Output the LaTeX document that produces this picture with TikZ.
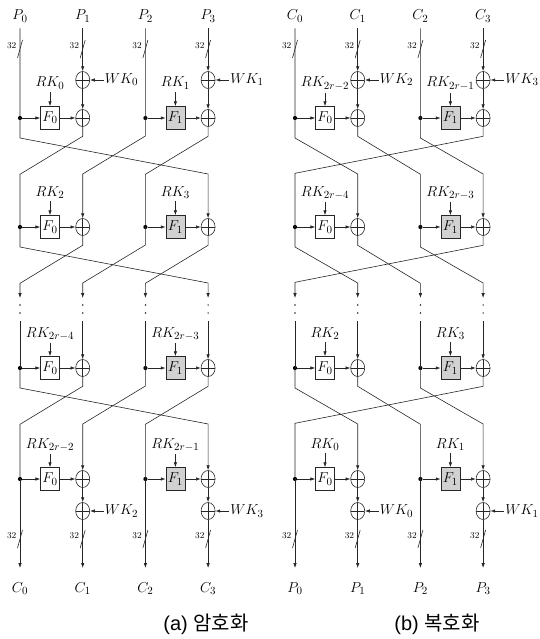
\documentclass[tikz,border=0pt]{standalone}
\usepackage{fontspec}
\newfontfamily\kr{Noto Sans CJK KR}
\newfontfamily\lsans{Liberation Sans}
\DeclareMathSizes{14.4}{14.4}{10.95}{8}
\usetikzlibrary{arrows.meta,shapes.geometric,calc}
\tikzset{
 ln/.style={draw=black!85, line width=0.6pt},
 arr/.style={ln, -{Latex[length=4.8pt,width=3.4pt]}},
 xorn/.style={ellipse, draw=black!85, line width=0.6pt, minimum width=14pt, minimum height=17pt, inner sep=0pt,
   path picture={\draw[black!85, line width=0.6pt] (path picture bounding box.north) -- (path picture bounding box.south) (path picture bounding box.west) -- (path picture bounding box.east);}},
 fnode/.style={draw=black!85, line width=0.6pt, minimum width=19pt, minimum height=23pt, inner sep=0pt, fill=white, font=\fontsize{14.4}{17}\selectfont},
 dotn/.style={circle, fill=black, inner sep=0pt, minimum size=4.2pt},
 lbl/.style={inner sep=1pt, font=\fontsize{14.4}{17}\selectfont},
 tinyn/.style={inner sep=0pt, font=\fontsize{9}{10}\selectfont, anchor=east},
 capn/.style={font=\fontsize{20}{23}\selectfont},
 vdot/.style={circle, fill=black!85, inner sep=0pt, minimum size=1.7pt},
}
\newcommand\fround[8]{%
 \node[dotn] (#1d0) at (#3,#2) {};
 \node[fnode] (#1fa) at ({#3+30},#2) {$F_0$};
 \node[xorn] (#1xa) at (#4,#2) {};
 \node[dotn] (#1d2) at (#5,#2) {};
 \node[fnode,fill=black!18] (#1fb) at ({#5+30},#2) {$F_1$};
 \node[xorn] (#1xb) at (#6,#2) {};
 \node[lbl,anchor=base] (#1ka) at ({#3+30},{#2-31}) {$#7$};
 \node[lbl,anchor=base] (#1kb) at ({#5+30},{#2-31}) {$#8$};
 \draw[arr] (#1d0) -- (#1fa);
 \draw[arr] (#1fa) -- (#1xa);
 \draw[arr,shorten <=2pt] (#1ka) -- (#1fa);
 \draw[arr] (#1d2) -- (#1fb);
 \draw[arr] (#1fb) -- (#1xb);
 \draw[arr,shorten <=2pt] (#1kb) -- (#1fb);
}
\newcommand\wkx[4]{%
 \node[xorn] (#1) at (#2,#3) {};
 \node[lbl,anchor=west] (#1l) at ({#2+21},#3) {$#4$};
 \draw[arr] (#1l) -- (#1);
}
\newcommand\bw[3]{%
 \draw[ln] ({#2-2.5},{#3+9}) -- ({#2+2.5},{#3-9});
 \node[tinyn] (#1) at ({#2-3.5},{#3-3}) {32};
}
\begin{document}
\begin{tikzpicture}[x=1pt,y=-1pt]
\useasboundingbox (0,0) rectangle (540,639);
\def\sp{62.7}
% ================= Encryption =================
\def\ea{20}\def\eb{82.7}\def\ec{145.4}\def\ed{208.1}
\node[lbl,anchor=base] (eP0) at (\ea,20) {$P_0$};
\node[lbl,anchor=base] (eP1) at (\eb,20) {$P_1$};
\node[lbl,anchor=base] (eP2) at (\ec,20) {$P_2$};
\node[lbl,anchor=base] (eP3) at (\ed,20) {$P_3$};
\node[lbl,anchor=base] (eC0) at (\ea,592) {$C_0$};
\node[lbl,anchor=base] (eC1) at (\eb,592) {$C_1$};
\node[lbl,anchor=base] (eC2) at (\ec,592) {$C_2$};
\node[lbl,anchor=base] (eC3) at (\ed,592) {$C_3$};
\wkx{ewk0}{\eb}{80}{WK_0}
\wkx{ewk1}{\ed}{80}{WK_1}
\fround{er1}{118}{\ea}{\eb}{\ec}{\ed}{RK_0}{RK_1}
\fround{er2}{227}{\ea}{\eb}{\ec}{\ed}{RK_2}{RK_3}
\fround{er3}{368}{\ea}{\eb}{\ec}{\ed}{RK_{2r-4}}{RK_{2r-3}}
\fround{er4}{479}{\ea}{\eb}{\ec}{\ed}{RK_{2r-2}}{RK_{2r-1}}
\wkx{ewk2}{\eb}{511}{WK_2}
\wkx{ewk3}{\ed}{511}{WK_3}
\bw{es0}{\ea}{49}\bw{es1}{\eb}{49}\bw{es2}{\ec}{49}\bw{es3}{\ed}{49}
\bw{et0}{\ea}{539}\bw{et1}{\eb}{539}\bw{et2}{\ec}{539}\bw{et3}{\ed}{539}
% top inputs
\draw[arr,shorten <=5pt] (eP0) -- (er1d0.center) -- ++(0,20) -- ++({3*\sp},36) -- (er2xb);
\draw[arr,shorten <=5pt] (eP1) -- (ewk0);
\draw[arr] (ewk0) -- (er1xa);
\draw[arr,shorten <=5pt] (eP2) -- (er1d2.center) -- ++(0,18) -- ++(-\sp,38) -- (er2xa);
\draw[arr,shorten <=5pt] (eP3) -- (ewk1);
\draw[arr] (ewk1) -- (er1xb);
\draw[ln] (er1xa.south) -- ++(0,9.5) -- ++(-\sp,38) -- (er2d0.center);
\draw[ln] (er1xb.south) -- ++(0,9.5) -- ++(-\sp,38) -- (er2d2.center);
% round 2 to dots
\coordinate (eu0) at (\ea,298); \coordinate (eu1) at (\eb,298);
\coordinate (eu2) at (\ec,298); \coordinate (eu3) at (\ed,298);
\coordinate (ev0) at (\ea,321); \coordinate (ev1) at (\eb,321);
\coordinate (ev2) at (\ec,321); \coordinate (ev3) at (\ed,321);
\draw[arr] (er2d0.center) -- ++(0,20) -- ++({3*\sp},36) -- (eu3);
\draw[arr] (er2xa.south) -- ++(0,9.5) -- ++(-\sp,38) -- (eu0);
\draw[arr] (er2d2.center) -- ++(0,18) -- ++(-\sp,38) -- (eu1);
\draw[arr] (er2xb.south) -- ++(0,9.5) -- ++(-\sp,38) -- (eu2);
\foreach \xx/\nn in {\ea/0,\eb/1,\ec/2,\ed/3}{
  \node[vdot] (eda\nn) at (\xx,305) {};
  \node[vdot] (edb\nn) at (\xx,313) {};
}
\draw[ln] (ev0) -- (er3d0.center);
\draw[arr] (ev1) -- (er3xa);
\draw[ln] (ev2) -- (er3d2.center);
\draw[arr] (ev3) -- (er3xb);
% round 3 to round 4
\draw[arr] (er3d0.center) -- ++(0,20) -- ++({3*\sp},36) -- (er4xb);
\draw[ln] (er3xa.south) -- ++(0,9.5) -- ++(-\sp,38) -- (er4d0.center);
\draw[arr] (er3d2.center) -- ++(0,18) -- ++(-\sp,38) -- (er4xa);
\draw[ln] (er3xb.south) -- ++(0,9.5) -- ++(-\sp,38) -- (er4d2.center);
% outputs
\draw[arr,shorten >=13pt] (er4d0.center) -- (eC0);
\draw[arr] (er4xa) -- (ewk2);
\draw[arr,shorten >=13pt] (ewk2) -- (eC1);
\draw[arr,shorten >=13pt] (er4d2.center) -- (eC2);
\draw[arr] (er4xb) -- (ewk3);
\draw[arr,shorten >=13pt] (ewk3) -- (eC3);
\node[capn] (capa) at (206,624) {\lsans (a) \kr 암호화};
% ================= Decryption =================
\def\da{295}\def\db{357.7}\def\dc{420.4}\def\dd{483.1}
\node[lbl,anchor=base] (dC0) at (\da,20) {$C_0$};
\node[lbl,anchor=base] (dC1) at (\db,20) {$C_1$};
\node[lbl,anchor=base] (dC2) at (\dc,20) {$C_2$};
\node[lbl,anchor=base] (dC3) at (\dd,20) {$C_3$};
\node[lbl,anchor=base] (dP0) at (\da,592) {$P_0$};
\node[lbl,anchor=base] (dP1) at (\db,592) {$P_1$};
\node[lbl,anchor=base] (dP2) at (\dc,592) {$P_2$};
\node[lbl,anchor=base] (dP3) at (\dd,592) {$P_3$};
\wkx{dwk2}{\db}{80}{WK_2}
\wkx{dwk3}{\dd}{80}{WK_3}
\fround{dr1}{118}{\da}{\db}{\dc}{\dd}{RK_{2r-2}}{RK_{2r-1}}
\fround{dr2}{227}{\da}{\db}{\dc}{\dd}{RK_{2r-4}}{RK_{2r-3}}
\fround{dr3}{368}{\da}{\db}{\dc}{\dd}{RK_2}{RK_3}
\fround{dr4}{479}{\da}{\db}{\dc}{\dd}{RK_0}{RK_1}
\wkx{dwk0}{\db}{511}{WK_0}
\wkx{dwk1}{\dd}{511}{WK_1}
\bw{ds0}{\da}{49}\bw{ds1}{\db}{49}\bw{ds2}{\dc}{49}\bw{ds3}{\dd}{49}
\bw{dt0}{\da}{539}\bw{dt1}{\db}{539}\bw{dt2}{\dc}{539}\bw{dt3}{\dd}{539}
% top inputs
\draw[arr,shorten <=5pt] (dC0) -- (dr1d0.center) -- ++(0,20) -- ++(\sp,36) -- (dr2xa);
\draw[arr,shorten <=5pt] (dC1) -- (dwk2);
\draw[arr] (dwk2) -- (dr1xa);
\draw[arr,shorten <=5pt] (dC2) -- (dr1d2.center) -- ++(0,20) -- ++(\sp,36) -- (dr2xb);
\draw[arr,shorten <=5pt] (dC3) -- (dwk3);
\draw[arr] (dwk3) -- (dr1xb);
\draw[ln] (dr1xa.south) -- ++(0,9.5) -- ++(\sp,38) -- (dr2d2.center);
\draw[ln] (dr1xb.south) -- ++(0,9.5) -- ++({-3*\sp},37) -- (dr2d0.center);
% round 2 to dots
\coordinate (du0) at (\da,298); \coordinate (du1) at (\db,298);
\coordinate (du2) at (\dc,298); \coordinate (du3) at (\dd,298);
\coordinate (dv0) at (\da,321); \coordinate (dv1) at (\db,321);
\coordinate (dv2) at (\dc,321); \coordinate (dv3) at (\dd,321);
\draw[arr] (dr2d0.center) -- ++(0,20) -- ++(\sp,36) -- (du1);
\draw[arr] (dr2xa.south) -- ++(0,9.5) -- ++(\sp,38) -- (du2);
\draw[arr] (dr2d2.center) -- ++(0,20) -- ++(\sp,36) -- (du3);
\draw[arr] (dr2xb.south) -- ++(0,9.5) -- ++({-3*\sp},37) -- (du0);
\foreach \xx/\nn in {\da/0,\db/1,\dc/2,\dd/3}{
  \node[vdot] (dda\nn) at (\xx,305) {};
  \node[vdot] (ddb\nn) at (\xx,313) {};
}
\draw[ln] (dv0) -- (dr3d0.center);
\draw[arr] (dv1) -- (dr3xa);
\draw[ln] (dv2) -- (dr3d2.center);
\draw[arr] (dv3) -- (dr3xb);
% round 3 to round 4
\draw[arr] (dr3d0.center) -- ++(0,20) -- ++(\sp,36) -- (dr4xa);
\draw[ln] (dr3xa.south) -- ++(0,9.5) -- ++(\sp,38) -- (dr4d2.center);
\draw[arr] (dr3d2.center) -- ++(0,20) -- ++(\sp,36) -- (dr4xb);
\draw[ln] (dr3xb.south) -- ++(0,9.5) -- ++({-3*\sp},37) -- (dr4d0.center);
% outputs
\draw[arr,shorten >=13pt] (dr4d0.center) -- (dP0);
\draw[arr] (dr4xa) -- (dwk0);
\draw[arr,shorten >=13pt] (dwk0) -- (dP1);
\draw[arr,shorten >=13pt] (dr4d2.center) -- (dP2);
\draw[arr] (dr4xb) -- (dwk1);
\draw[arr,shorten >=13pt] (dwk1) -- (dP3);
\node[capn] (capb) at (437,624) {\lsans (b) \kr 복호화};
\end{tikzpicture}
\end{document}
